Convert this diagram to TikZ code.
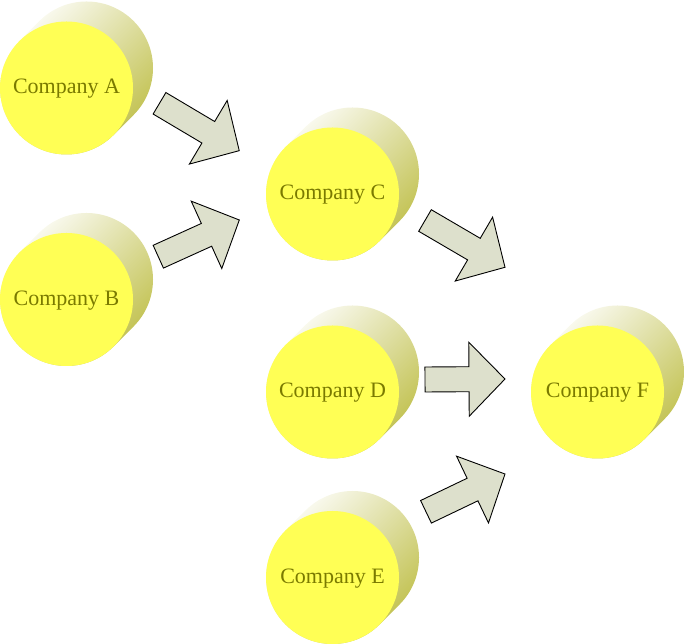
\documentclass[tikz,border=0pt]{standalone}
\usepackage{fontspec}
\setmainfont{Liberation Serif}
\usetikzlibrary{calc,backgrounds}
\definecolor{compyellow}{HTML}{FFFF55}
\definecolor{compolive}{HTML}{7A7A00}
\definecolor{depthdark}{HTML}{BEBE46}
\definecolor{arrowgrey}{HTML}{DDE0CC}
\tikzset{
  company/.style={
    circle,fill=compyellow,minimum size=133pt,inner sep=0pt,
    text height=15pt,text depth=3pt,
    text=compolive,font=\fontsize{22}{26}\selectfont
  },
  depth/.style={top color=white,bottom color=depthdark,shading angle=45},
  blockarrow/.style={
    draw=black,fill=arrowgrey,line width=.9pt,line join=miter,
    to path={let \p1=(\tikztostart),\p2=(\tikztotarget),
      \n1={atan2(\y2-\y1,\x2-\x1)},\n2={veclen(\x2-\x1,\y2-\y1)} in
      ([shift={(\p1)},rotate=\n1]0,12.5) -- ([shift={(\p1)},rotate=\n1]\n2-36,12.5)
      -- ([shift={(\p1)},rotate=\n1]\n2-36,37) -- ([shift={(\p1)},rotate=\n1]\n2,0)
      -- ([shift={(\p1)},rotate=\n1]\n2-36,-37) -- ([shift={(\p1)},rotate=\n1]\n2-36,-12.5)
      -- ([shift={(\p1)},rotate=\n1]0,-12.5) -- cycle}
  }
}
\begin{document}
\begin{tikzpicture}[x=1pt,y=1pt]
\useasboundingbox (0,0) rectangle (685,644);

\node[company] (A) at (66.5,556) {Company A};
\node[company] (B) at (66.5,344.5) {Company B};
\node[company] (C) at (332.5,450) {Company C};
\node[company] (D) at (332.5,252) {Company D};
\node[company] (E) at (332.5,66.5) {Company E};
\node[company] (F) at (597.5,252) {Company F};

% depth behind each disc
\begin{scope}[on background layer]
\foreach \n in {A,B,C,D,E,F}
  \shade[depth] ($(\n)+(20,20)+(135:66.5pt)$) arc[start angle=135,end angle=-45,radius=66.5pt]
    -- ($(\n)+(-45:66.5pt)$) arc[start angle=-45,end angle=-225,radius=66.5pt] -- cycle;
\end{scope}

\coordinate (acT) at ($(A)+(93,-15.3)$);
\coordinate (acH) at ($(C)+(-93.2,43.3)$);
\coordinate (bcT) at ($(B)+(91.8,42.8)$);
\coordinate (bcH) at ($(C)+(-93.2,-26)$);
\coordinate (cfT) at ($(C)+(92.5,-26.5)$);
\coordinate (cfH) at ($(F)+(-92.5,124.7)$);
\coordinate (dfT) at ($(D)+(92.5,12.5)$);
\coordinate (dfH) at ($(F)+(-92.5,13)$);
\coordinate (efT) at ($(E)+(93.5,65.7)$);
\coordinate (efH) at ($(F)+(-92.5,-82)$);

\draw[blockarrow] (acT) to (acH);
\draw[blockarrow] (bcT) to (bcH);
\draw[blockarrow] (cfT) to (cfH);
\draw[blockarrow] (dfT) to (dfH);
\draw[blockarrow] (efT) to (efH);
\end{tikzpicture}
\end{document}
